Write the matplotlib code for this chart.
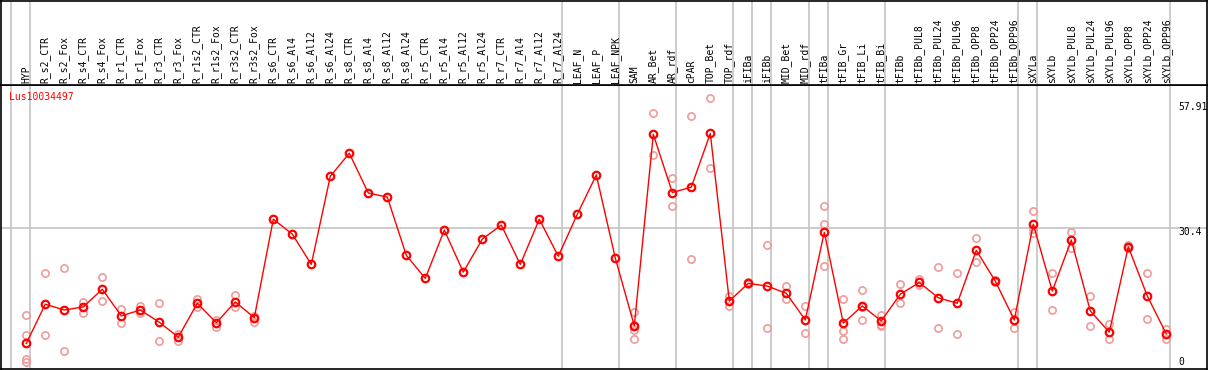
import matplotlib
matplotlib.use("Agg")
import matplotlib.pyplot as plt

categories = ["HYP", "R_s2_CTR", "R_s2_Fox", "R_s4_CTR", "R_s4_Fox", "R_r1_CTR", "R_r1_Fox",
              "R_r3_CTR", "R_r3_Fox", "R_r1s2_CTR", "R_r1s2_Fox", "R_r3s2_CTR", "R_r3s2_Fox",
              "R_s6_CTR", "R_s6_Al4", "R_s6_Al12", "R_s6_Al24", "R_s8_CTR", "R_s8_Al4",
              "R_s8_Al12", "R_s8_Al24", "R_r5_CTR", "R_r5_Al4", "R_r5_Al12", "R_r5_Al24",
              "R_r7_CTR", "R_r7_Al4", "R_r7_Al12", "R_r7_Al24", "LEAF_N", "LEAF_P", "LEAF_NPK",
              "SAM", "AR_Bet", "AR_rdf", "cPAR", "TOP_Bet", "TOP_rdf", "iFIBa", "iFIBb",
              "MID_Bet", "MID_rdf", "tFIBa", "tFIB_Gr", "tFIB_Li", "tFIB_Bi", "tFIBb",
              "tFIBb_PUL8", "tFIBb_PUL24", "tFIBb_PUL96", "tFIBb_OPP8", "tFIBb_OPP24",
              "tFIBb_OPP96", "sXYLa", "sXYLb", "sXYLb_PUL8", "sXYLb_PUL24", "sXYLb_PUL96",
              "sXYLb_OPP8", "sXYLb_OPP24", "sXYLb_OPP96"]

means = [4.9, 13.6, 12.3, 13.0, 16.9, 11.0, 12.3, 9.6, 6.3, 13.8, 9.5, 14.1, 10.6,
         32.4, 29.1, 22.4, 41.9, 47.0, 38.2, 37.3, 24.4, 19.3, 30.0, 20.7, 28.0,
         31.1, 22.4, 32.4, 24.2, 33.5, 42.2, 23.8,
         8.8, 51.2, 38.3, 39.5, 51.4, 14.3, 18.2, 17.6, 16.0, 10.1,
         29.5, 9.4, 13.2, 9.9, 15.8, 18.4, 15.0, 13.8, 25.5, 18.7, 10.1,
         31.3, 16.5, 27.8, 12.1, 7.4, 26.3, 15.4, 7.0]

replicates = [
    [11.2, 6.8, 1.5, 0.9], [20.6, 6.8], [21.5, 3.2], [14.1, 11.6], [19.5, 14.2],
    [12.5, 9.4], [13.3, 11.6], [13.8, 5.4], [7.1, 5.5], [14.7, 13.0], [10.2, 8.6],
    [15.6, 13.0], [11.0, 9.7],
    [], [], [], [], [], [], [], [], [], [], [], [], [], [], [], [], [], [], [],
    [11.9, 8.9, 7.9, 5.8], [55.8, 46.6], [41.5, 35.3], [55.2, 23.5], [59.2, 43.7],
    [15.4, 13.2], [18.4, 18.0], [26.8, 8.3], [17.6, 14.7], [13.2, 7.3],
    [35.3, 31.3, 22.0], [14.7, 7.7, 5.8], [16.7, 10.1, 13.0], [11.2, 9.0, 8.8],
    [18.0, 13.8], [19.2, 17.8], [21.8, 8.3], [20.6, 7.0], [28.2, 22.9], [19.0, 18.6],
    [11.9, 8.3],
    [34.2, 30.2, 29.4], [20.4, 12.3], [29.5, 26.0], [15.3, 8.8], [9.2, 5.8],
    [26.7, 26.0], [20.4, 10.3], [8.0, 5.8]]

group_ends = [-1, 0, 28, 31, 34, 37, 38, 39, 41, 42, 45, 52, 53, 60]
gene = "Lus10034497"
axis_labels = [57.91, 30.4, 0]

W, H = 1209, 370
fig = plt.figure(figsize=(W / 100, H / 100), dpi=100)
fig.patch.set_facecolor("white")

# pixel geometry
x0_pix, dx_pix = 26.3, 19.0
y0_pix, dy_pix = 365.6, 4.518
left_pix, right_pix = 1, 1207
head_pix, bottom_pix = 85, 369

xlim = ((left_pix - x0_pix) / dx_pix, (right_pix - x0_pix) / dx_pix)
ylim = ((y0_pix - bottom_pix) / dy_pix, (y0_pix - head_pix) / dy_pix)

ax = fig.add_axes([left_pix / W, 1 - bottom_pix / H, (right_pix - left_pix) / W,
                   (bottom_pix - head_pix) / H])
hx = fig.add_axes([left_pix / W, 1 - head_pix / H, (right_pix - left_pix) / W,
                   head_pix / H - 0.5 / H])
for a in (ax, hx):
    a.set_xlim(*xlim)
    a.set_xticks([])
    a.set_yticks([])
    for s in a.spines.values():
        s.set_color("black")
        s.set_linewidth(1.2)
    for g in group_ends:
        a.axvline(g + 4 / 19, color="#c4c4c4", lw=1.2, zorder=1)
ax.set_ylim(*ylim)
hx.set_ylim(0, 1)

ax.axhline(axis_labels[1], color="#c4c4c4", lw=1.2, zorder=1)

mono = "DejaVu Sans Mono"
xs = list(range(len(categories)))
for i, lab in enumerate(categories):
    hx.text(i, 2 / head_pix, lab, rotation=90, ha="center", va="bottom",
            fontsize=7, family=mono, color="black")

# replicates
rx, ry = [], []
for i, reps in enumerate(replicates):
    for r in reps:
        rx.append(i)
        ry.append(r)
ax.plot(rx, ry, linestyle="none", marker="o", markersize=5.2, fillstyle="none",
        markeredgecolor="#f09a9a", markeredgewidth=1.2, zorder=2)

ax.plot(xs, means, color="red", lw=1.0, marker="o", markersize=5.4, fillstyle="none",
        markeredgecolor="red", markeredgewidth=1.6, zorder=3)

ax.text((9 - left_pix) / (right_pix - left_pix), 1 - (97 - head_pix) / (bottom_pix - head_pix),
        gene, transform=ax.transAxes, color="red", fontsize=7, family=mono,
        ha="left", va="center")

lab_x = (1178 - x0_pix) / dx_pix
offs = [-3, -4, 4]
for v, o in zip(axis_labels, offs):
    ax.annotate(f"{v:g}", xy=(lab_x, v), xytext=(0, o), textcoords="offset pixels",
                ha="left", va="center", fontsize=7, family=mono, color="black",
                annotation_clip=False)

fig.savefig("out.png", dpi=100)
